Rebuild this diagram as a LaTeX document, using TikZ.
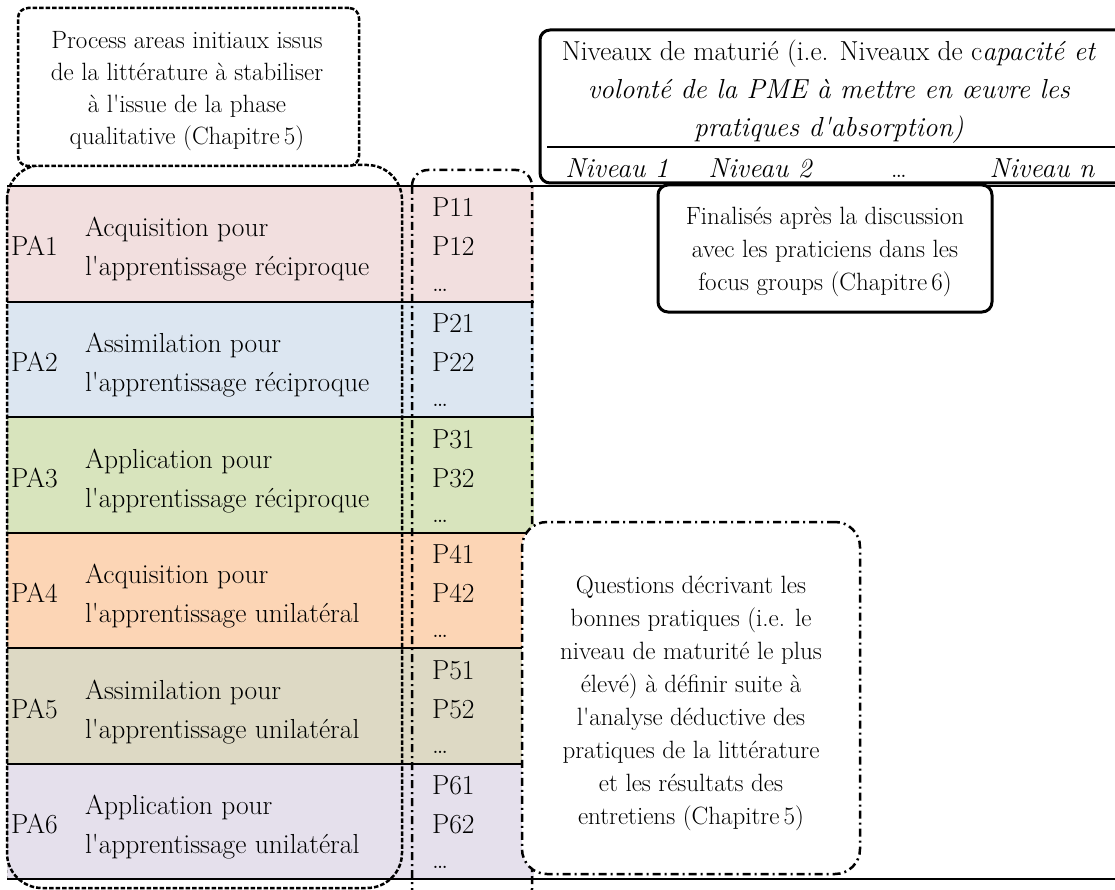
\documentclass[tikz,border=0pt]{standalone}
\usepackage{fontspec}
\newcommand\qs{\textquotesingle}
\definecolor{paA}{HTML}{F2DFDF}
\definecolor{paB}{HTML}{DCE6F1}
\definecolor{paC}{HTML}{D8E4BD}
\definecolor{paD}{HTML}{FCD5B5}
\definecolor{paE}{HTML}{DDD9C4}
\definecolor{paF}{HTML}{E5E0EC}
\begin{document}
\begin{tikzpicture}[x=1pt,y=-1pt,
  every node/.style={inner sep=0pt,outer sep=0pt},
  txt/.style={font=\fontsize{25}{#1}\selectfont,align=center},
  txt/.default=33,
  big/.style={font=\fontsize{27.5}{#1}\selectfont},
  big/.default=39,
  rowfill/.style={minimum width=527pt,minimum height=115.5pt,anchor=north west},
  sepline/.style={line width=2pt},
  dashbox/.style={draw,line width=2.5pt,dash pattern=on 4.5pt off 2pt,rounded corners=#1},
  dotbox/.style={draw,line width=2.5pt,dash pattern=on 8pt off 4pt on 2pt off 4pt,rounded corners=#1},
  solidbox/.style={draw,line width=3pt,rounded corners=#1}
]
\useasboundingbox (0,0) rectangle (1115,890);
% row fills
\foreach \i/\c in {1/paA,2/paB,3/paC,4/paD,5/paE,6/paF}{
  \node[rowfill,fill=\c] (row\i) at (7,{186+(\i-1)*115.5}) {};
}
\draw[gray!60,line width=0.6pt,dashed] (row1.north west) -- (row6.south west);
% separators
\foreach \i in {1,...,5}{\draw[sepline] (row\i.south west) -- (row\i.south east);}
\coordinate (rEdge) at (1115,186);
\coordinate (rEdgeB) at (1115,879);
\draw[line width=2.5pt] (row1.north west) -- (rEdge);
\draw[line width=2.5pt] (row6.south west) -- (rEdgeB);
% row texts
\foreach \i/\a/\b in {1/Acquisition pour/l\qs apprentissage réciproque,
                      2/Assimilation pour/l\qs apprentissage réciproque,
                      3/Application pour/l\qs apprentissage réciproque,
                      4/Acquisition pour/l\qs apprentissage unilatéral,
                      5/Assimilation pour/l\qs apprentissage unilatéral,
                      6/Application pour/l\qs apprentissage unilatéral}{
  \node[big,anchor=base west] (pa\i) at (11,{186+(\i-1)*115.5+70}) {PA\i};
  \node[big,anchor=base west] (nma\i) at (85,{186+(\i-1)*115.5+51}) {\a};
  \node[big,anchor=base west] (nmb\i) at (85,{186+(\i-1)*115.5+90}) {\b};
  \node[big,anchor=base west] (pra\i) at (432,{186+(\i-1)*115.5+31}) {P\i1};
  \node[big,anchor=base west] (prb\i) at (432,{186+(\i-1)*115.5+70}) {P\i2};
  \node[big,anchor=base west] (prc\i) at (432,{186+(\i-1)*115.5+105}) {…};
}
% PA dashed box
\draw[dashbox=35] (7,165) rectangle (402,888);
% P column box
\draw[dotbox=16] (412,170) rectangle (532,905);
% top-left box
\node[dashbox=10,fill=white,minimum width=341pt,minimum height=158pt,anchor=north west] (tl) at (18,8) {};
\node[txt=32] (tlt) at (187,91) {Process areas initiaux issus\\de la littérature à stabiliser\\à l\qs issue de la phase\\qualitative (Chapitre\,5)};
% top-right box
\node[solidbox=10,minimum width=600pt,minimum height=153pt,anchor=north west] (tr) at (540,30) {};
\coordinate (midL) at (547,147);
\coordinate (midR) at (1115,147);
\draw[line width=2.5pt] (midL) -- (midR);
\node[big=38,align=center] (trt) at (829,92) {Niveaux de maturié (i.e. Niveaux de c\textit{apacité et}\\\textit{volonté de la PME à mettre en œuvre les}\\\textit{pratiques d\qs absorption)}};
\node[big,anchor=base] (n1) at (617,178) {\itshape Niveau 1};
\node[big,anchor=base] (n2) at (760,178) {\itshape Niveau 2};
\node[big,anchor=base] (n3) at (899,178) {…};
\node[big,anchor=base] (nn) at (1042,178) {\itshape Niveau n};
% finalises box
\node[solidbox=10,fill=white,minimum width=334pt,minimum height=127pt,anchor=north west] (fin) at (658,185) {};
\node[txt=33] (fint) at (825,252) {Finalisés après la discussion\\avec les praticiens dans les\\focus groups (Chapitre\,6)};
% questions box
\node[dotbox=25,fill=white,minimum width=338pt,minimum height=352pt,anchor=north west] (qb) at (522,522) {};
\node[txt=33] (qbt) at (691,703) {Questions décrivant les\\bonnes pratiques (i.e. le\\niveau de maturité le plus\\élevé) à définir suite à\\l\qs analyse déductive des\\pratiques de la littérature\\et les résultats des\\entretiens (Chapitre\,5)};
\end{tikzpicture}
\end{document}
